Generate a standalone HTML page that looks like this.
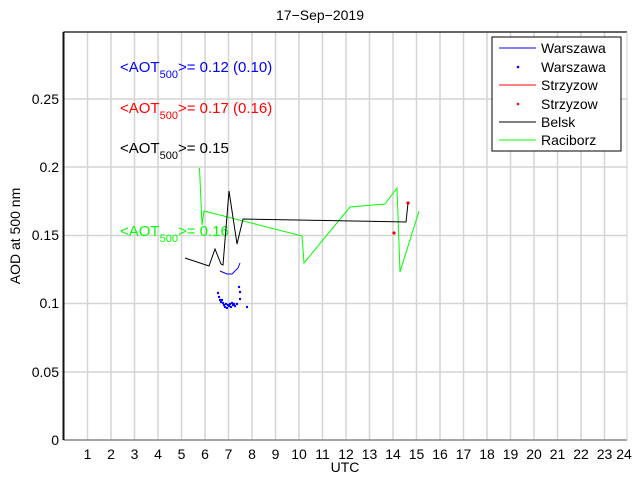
<!DOCTYPE html>
<html><head><meta charset="utf-8"><style>
html,body{margin:0;padding:0;background:#fff}
svg{display:block;font-family:"Liberation Sans",Arial,sans-serif}
</style></head><body>
<svg width="640" height="480" viewBox="0 0 640 480" xmlns="http://www.w3.org/2000/svg">
<rect width="640" height="480" fill="#fff"/>
<g stroke="#d4d4d4" stroke-width="1.5">
<line x1="87.5" y1="32" x2="87.5" y2="440"/><line x1="111" y1="32" x2="111" y2="440"/><line x1="134.5" y1="32" x2="134.5" y2="440"/><line x1="158" y1="32" x2="158" y2="440"/><line x1="181.5" y1="32" x2="181.5" y2="440"/><line x1="205" y1="32" x2="205" y2="440"/><line x1="228.5" y1="32" x2="228.5" y2="440"/><line x1="252" y1="32" x2="252" y2="440"/><line x1="275.5" y1="32" x2="275.5" y2="440"/><line x1="299" y1="32" x2="299" y2="440"/><line x1="322.5" y1="32" x2="322.5" y2="440"/><line x1="346" y1="32" x2="346" y2="440"/><line x1="369.5" y1="32" x2="369.5" y2="440"/><line x1="393" y1="32" x2="393" y2="440"/><line x1="416.5" y1="32" x2="416.5" y2="440"/><line x1="440" y1="32" x2="440" y2="440"/><line x1="463.5" y1="32" x2="463.5" y2="440"/><line x1="487" y1="32" x2="487" y2="440"/><line x1="510.5" y1="32" x2="510.5" y2="440"/><line x1="534" y1="32" x2="534" y2="440"/><line x1="557.5" y1="32" x2="557.5" y2="440"/><line x1="581" y1="32" x2="581" y2="440"/><line x1="604.5" y1="32" x2="604.5" y2="440"/>
<line x1="63.5" y1="99" x2="627" y2="99"/><line x1="63.5" y1="167" x2="627" y2="167"/><line x1="63.5" y1="235.5" x2="627" y2="235.5"/><line x1="63.5" y1="303.5" x2="627" y2="303.5"/><line x1="63.5" y1="372" x2="627" y2="372"/>
</g>
<line x1="63.5" y1="32" x2="627" y2="32" stroke="#333" stroke-width="1.5"/>
<line x1="63.5" y1="440" x2="627" y2="440" stroke="#888" stroke-width="1.5"/>
<line x1="627" y1="32" x2="627" y2="440" stroke="#ccc" stroke-width="1"/>
<line x1="63.5" y1="32" x2="63.5" y2="440" stroke="#111" stroke-width="2"/>
<g font-size="14" fill="#000">
<text x="320" y="20" text-anchor="middle">17−Sep−2019</text>
<text x="345" y="472" text-anchor="middle">UTC</text>
<text transform="translate(20,236) rotate(-90)" text-anchor="middle">AOD at 500 nm</text>
<g text-anchor="end"><text x="59" y="445">0</text><text x="59" y="377">0.05</text><text x="59" y="308">0.1</text><text x="59" y="240">0.15</text><text x="59" y="172">0.2</text><text x="59" y="104">0.25</text></g>
<g text-anchor="middle"><text x="87.5" y="459">1</text><text x="111" y="459">2</text><text x="134.5" y="459">3</text><text x="158" y="459">4</text><text x="181.5" y="459">5</text><text x="205" y="459">6</text><text x="228.5" y="459">7</text><text x="252" y="459">8</text><text x="275.5" y="459">9</text><text x="299" y="459">10</text><text x="322.5" y="459">11</text><text x="346" y="459">12</text><text x="369.5" y="459">13</text><text x="393" y="459">14</text><text x="416.5" y="459">15</text><text x="440" y="459">16</text><text x="463.5" y="459">17</text><text x="487" y="459">18</text><text x="510.5" y="459">19</text><text x="534" y="459">20</text><text x="557.5" y="459">21</text><text x="581" y="459">22</text><text x="604.5" y="459">23</text><text x="624" y="459">24</text></g>
</g>
<g font-size="15">
<text x="120" y="72" fill="#00f">&lt;AOT<tspan font-size="11" dy="6">500</tspan><tspan dy="-6">&gt;= 0.12 (0.10)</tspan></text>
<text x="120" y="113" fill="#f00">&lt;AOT<tspan font-size="11" dy="6">500</tspan><tspan dy="-6">&gt;= 0.17 (0.16)</tspan></text>
<text x="120" y="153" fill="#000">&lt;AOT<tspan font-size="11" dy="6">500</tspan><tspan dy="-6">&gt;= 0.15</tspan></text>
<text x="120" y="236" fill="#0f0">&lt;AOT<tspan font-size="11" dy="6">500</tspan><tspan dy="-6">&gt;= 0.16</tspan></text>
</g>
<g fill="none" stroke-width="1">
<polyline stroke="#0f0" points="199.5,168 202,225 204,211 302,236 304,263 350,207 385,204 397,188 400,272 419,211"/>
<polyline stroke="#000" points="185,258 209,266 215,249 221,264 223,265 229,191 237,244 243,219 406,222 408,203"/>
<polyline stroke="#00f" points="220,271 227,274 232,274 238,268 240,263"/>
</g>
<g fill="#f00"><circle cx="394" cy="233" r="1.6"/><circle cx="408" cy="203" r="1.6"/></g>
<g fill="#00f">
<circle cx="218" cy="293" r="1.2"/><circle cx="219" cy="297" r="1.2"/><circle cx="220" cy="300" r="1.2"/><circle cx="221" cy="302" r="1.2"/><circle cx="222" cy="300" r="1.2"/><circle cx="223" cy="303" r="1.2"/><circle cx="224" cy="305" r="1.2"/><circle cx="225" cy="307" r="1.2"/><circle cx="226" cy="304" r="1.2"/><circle cx="227" cy="308" r="1.2"/><circle cx="228" cy="305" r="1.2"/><circle cx="229" cy="306" r="1.2"/><circle cx="230" cy="304" r="1.2"/><circle cx="231" cy="307" r="1.2"/><circle cx="232" cy="303" r="1.2"/><circle cx="233" cy="305" r="1.2"/><circle cx="234" cy="304" r="1.2"/><circle cx="235" cy="306" r="1.2"/><circle cx="237" cy="304" r="1.2"/><circle cx="239" cy="287" r="1.2"/><circle cx="240" cy="292" r="1.2"/><circle cx="240" cy="299" r="1.2"/><circle cx="247" cy="307" r="1.2"/>
</g>
<rect x="492" y="37" width="129" height="114" fill="#fff" stroke="#000" stroke-width="1"/>
<g stroke-width="1">
<line x1="499" y1="48" x2="536" y2="48" stroke="#00f"/>
<line x1="499" y1="85" x2="536" y2="85" stroke="#f00"/>
<line x1="499" y1="122" x2="536" y2="122" stroke="#000"/>
<line x1="499" y1="140" x2="536" y2="140" stroke="#0f0"/>
</g>
<circle cx="518" cy="67" r="1.3" fill="#00f"/><circle cx="518" cy="104" r="1.3" fill="#f00"/>
<g font-size="14" fill="#000">
<text x="541" y="53">Warszawa</text><text x="541" y="72">Warszawa</text><text x="541" y="90">Strzyzow</text><text x="541" y="109">Strzyzow</text><text x="541" y="127">Belsk</text><text x="541" y="145">Raciborz</text>
</g>
</svg>
</body></html>
